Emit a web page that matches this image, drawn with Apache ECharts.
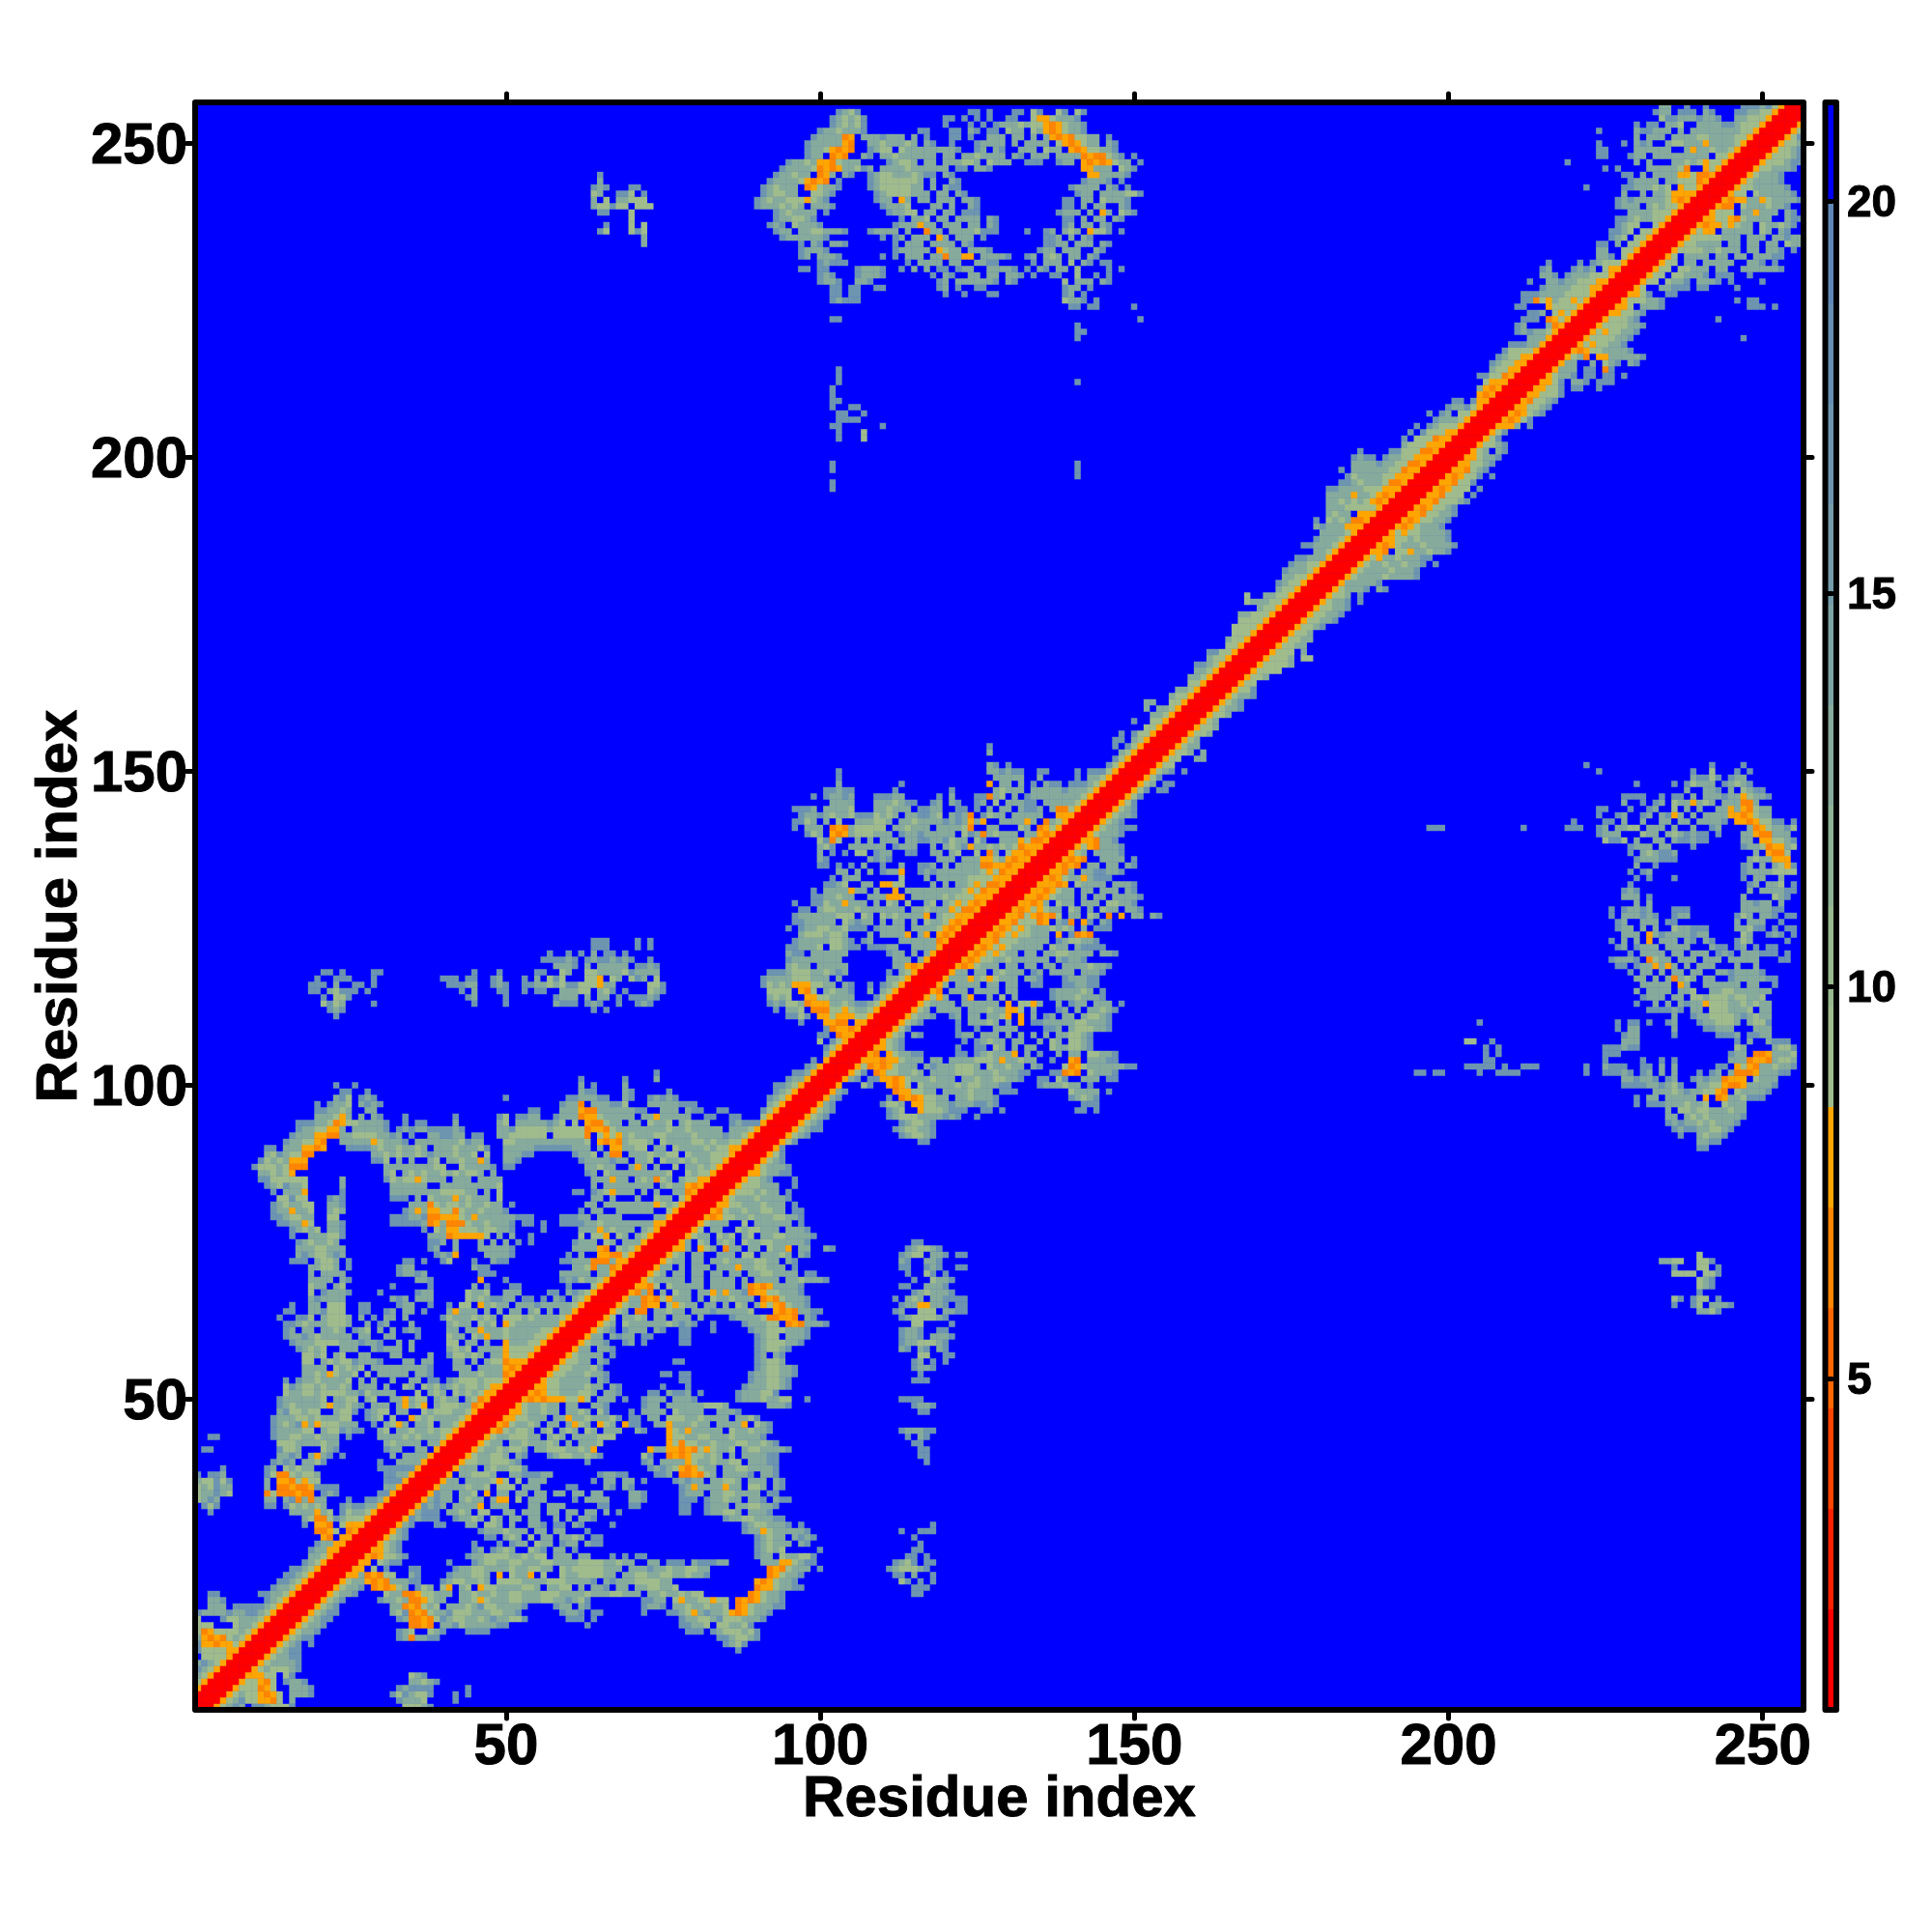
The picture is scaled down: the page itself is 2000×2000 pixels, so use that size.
<!DOCTYPE html>
<html><head><meta charset="utf-8">
<style>html,body{margin:0;padding:0;background:#fff}#c{width:2000px;height:2000px}</style>
<script src="https://cdn.jsdelivr.net/npm/echarts@6/dist/echarts.min.js"></script></head>
<body><div id="c"></div>
<script>
const residueCount = 256;
const xTicks = [50,100,150,200,250];
const yTicks = [50,100,150,200,250];
const barTicks = [5,10,15,20];
const bandEdges = [0.78,2.06,3.34,4.62,5.90,7.18,8.46,9.74,11.02,12.30,13.58,14.86,16.14,17.42,18.70,19.98,21.26];
const bandColors = ['#ff0000','#ff2200','#ff4400','#ff6600','#ff8500','#ffa500','#a0bc8c','#98b88f','#8fb295','#86ab9c','#7da3a3','#759caa','#6d95b0','#668eb4','#5f88b6','#0000ff'];
// distance value per letter used in the rows below
const letterValues = {'.':21,R:1.5,r:5.2,q:6.5,o:7.8,a:9.1,b:12.9,c:16.8};
// distance at |i-j| = 0..3 along the diagonal
const diagonalValues = [1.4,1.4,1.6,7.8];

// Each row: "y x:cells x:cells" (upper triangle x>y, mirrored on load)
const rowsBlockA = [
"1 5:abcb.ccbaaac 35:aabc","2 6:abcaaooqa.b 35:abc","3 7:abaaoqoa.bbbc 35:aac 44:c","4 8:aaaqoa..bbbc 33:cbbaac 44:c",
"5 9:aaoqa.cbbc 35:bbabc","6 10:ooaa.ac 35:abc","7 11:abaaabc","8 12:abbbbc","9 13:abbcc","10 14:abcc 87:c",
"11 15:abc.c 85:cbac","12 16:abcc 33:cbqbbcc 84:ccbaabc","13 17:abbc 33:cba..abc 44:ccc 47:c 79:ccc 83:cbaaabac",
"14 18:abbc 35:qqoq.bbcabbbbbcc 63:c 78:ccbba.aabbac","15 19:abcc 33:cbqqoqacbaabbabcbbaac 60:ccc 64:c 78:cbbaabcaaabbbc",
"16 20:abcc 32:bacqoqabbcaaabbbaabbc 59:cbbc 64:cc 72:c 76:ccbaobcbbao 87:qoabbc",
"17 21:abc 31:.bbqoqaba.bbbabcaabbbbc 58:cbb.bc 72:cbbc.bbabbabba 87:qoabbbcc",
"18 22:abc 30:cbbabqqoabb..bbaoabbbaabbbaabbcbac 72:ccbb.aobbaaoaa 87:qoqoabbc",
"19 23:abbc 31:abbqqoaabbb.bbabbabbaabbbaaabbbbabbbaabbb.bbabbabaa 89:qoabbc",
"20 24:abbc 29:qoqoabbcab.ao.ba.oaabbbbaab.bbaa.b.bbc.bb.bbaabba 90:qooabbcc",
"21 25:abbcc 28:oqoqbbbcc 40:cbaabbab 49:aaaabbbbaaabbbbc.bcbbbaaaabb 90:oqoabbc",
"22 26:ob 28:qoqaa..bc 41:cbbbaab.o.abbo.a..abbaaaabb.bbaabbaabbabbc 92:qoabbc",
"23 26:oo 29:a.c 35:cc 42:cbbaa 47:bbbbabbaabb 59:abaaaaabbb.bbbcbbabbaabb 92:qoqabbb.c",
"24 27:oo 30:abcc 41:c 45:cbaabbaabbbaabbbbaaaabbabb..bb.ccc.bcc 81:c 83:cbb.. 91:bbboo 96:abcc",
"25 29:qoaabc 44:cbbaaaabbabaa.bbb.bb...cc 67:c.c 71:cc 90:cbb.abbaac",
"26 30:oabc 45:cb.cbab..abc.bb.c 90:cbaba.. 100:c","27 31:abc 45:c 49:c.cbb.abb.cbb.bcc 90:cbabbb.bc",
"28 32:abc 47:cc.bab.a.bb.bbab.cc 90:cbabb.bcbc","29 33:bc 46:cbbbabbb.bb.bb...c 88:cbboabbbbbc",
"30 34:bc 39:cc 43:.bb.aab.b..bbc.cc.bc 67:c 88:cbaabbbc.c","31 33:cbcbc 38:cc 42:cbbab.ab.bb.bb..b.b.bbc 85:cbbaabbbcc",
"32 34:cbbcc 39:c.bbab.aa..bb.bbb.bb.bb.bb.b.c 78:cc 82:cbbaab.bbbc","33 36:bcb 39:cb.bbbbo.bbb...bb.bbb.. 65:cc 70:cc 78:cc 82:cbbb.bbaabbc",
"34 35:bcbbcbb.babb.boo.a.bbb....c.bbbb...bbc 78:ccc 82:cbbabb.bbc 92:.bcc","35 36:bbbcbb.bba.o.bb.bb.bb.bb.bb.bb....bbc 78:cbbb 83:bbaabbbb.cc",
"36 37:bb.bbbbabba.aaa.bbb....cc....bc.bc 78:cbobbbbobb.aab.bc","37 38:bbabb.bbbbaoa.a.bbb.......c.bb.bb.c 77:cbcbb.bbaab.bbb.bc",
"38 39:abb.bbaaab..bbcccbb.... 64:.cbbcc 74:ccb 78:qqoqab.bbbbc.bbc","39 40:qoabbb.babbaac 73:cbcbabb 78:oqoabb.bbaabbbbc",
"40 41:ooqaabbaaabc 63:c 72:cb.bbbbo 79:oabbabbaa.bbbcc","41 42:ooqabbaab.bc. 57:cbaabbabc 72:ac 76:qoqoaabab.b.bbbbcc",
"42 44:oqabbabaab.bbaaabbabo 73:obbooqoq 81:aoabba.baabbbbc","43 45:oqabb.bbabbbab.b.bbba 76:oaqaabbabbbaabbabc",
"44 46:oqabbaaabb.bab.bbbbaaa 76:oaabbaabbbabbbbc","45 48:oqabaab.ba.bab.ab.bbb..bc 76:oabobbbbb.abbabbc",
"46 49:oqabbab.bb.boab.oab.o 70:cc..bbobbbabb.bbbbo.abc","47 50:qoaabbb.bbobbabbbac 70:cc.bb 76:aaabbabbbb.bbac",
"48 51:qoabbabb.bbab.ac 70:c.bbbb.abbbb..bbbc","49 52:qabbabb.bb..bbc 72:cbb.bb 78:bbbbaaab 92:bbbc",
"50 54:qoqoooaaoa.bbb.c 72:cbbb.bbbc 87:cbbbabbaa 98:c","51 55:qoaabbbaab.bbc 73:cc.bc 78:cb.c 87:cbbbaac",
"52 56:oaabbbbabb.bc 75:c 78:.c 88:cbbbaabc","53 57:aabbbbb.bc 67:. 78:cc 89:cbbaabc","54 58:aabbbabbc 75:cc 78:cc 89:cbbaabbc",
"55 59:aabbbac 90:cbaabbc","56 60:aabb.bc 76:.cc 90:cbaab.","57 61:abbbb.c 90:cb.bc.","58 62:bb.bbc 69:. 90:cbaabc",
"59 63:abbc 69:cb.c 78:cc 90:cbaaabbc","60 64:bb.bc 68:cbb.cc 78:cc 83:. 90:cbaa.bbbc","61 65:ab 67:c 69:cbbb.bc 78:cc 83:c 89:cbbaaabbbc",
"62 66:ab.abbbbbbabc 78:cbc 83:c 88:cbbbaa 95:qoqbbbc","63 67:a.b 70:bab.bb.bbb.b.c 83:. 86:cbbbbaqqooq.bc",
"64 68:ab.qq.bbabb.bbb.c 83:cbbbbba 93:oqoqbbcc","65 69:abbqoo.aoabb.bb.b.ab.bbbb.c 91:oaoqabbc",
"66 70:bbqoqaobbb.b.abbabbb.ab.bc 91:qoqabbbc","67 71:qbq.b.abb.bb.bb.c 83:obobbc 89:qooaabbbc",
"68 72:oqa.abbbbb.bbbb.bc 89:qoqobbbbc","69 73:abbbbb.bb.bbbb.b.bbbb.bbabbbc","70 74:ab.bb.bb.bb.bb.bbaabbbb.cc",
"71 75:bb.b.bbb.bbbobbaabbb.c","72 76:abb.bb.bbabbbbaabb.bc","73 77:ab.bb..bbb.aa.bbbab.bc","74 78:ob.oab.qbb.bb.abbo.bb..bc",
"75 79:b.ab.bab.abbaabbbbbc","76 80:abb 84:aba.ba.bbaabbbbc","77 81:a.bb..abaabbb.bbbc","78 82:abbb..a.bbbbbb.c",
"79 83:qoaabbabbbaabbc","80 84:qabbabbaabb.cc","81 85:oaabbbabbb.c","82 86:abbbabbbbc","83 87:aaababb.c","84 88:aaabbb..c",
"85 89:aabc 96:c","86 90:oabbc 95:c","87 91:abbbc","88 92:abc","89 93:ac","90 94:c","91 95:ac 116:cc","92 96:abc 113:cbaabc","93 97:abcc 112:cbaabbc",
"94 98:abc. 113:cbaabc","95 99:abc 111:cbaaabbbbcbc 125:c"
];
const rowsBlockB = [
"96 100:abc 111:cba 116:oaaabc 122:cc 126:cc 129:c 141:cc 144:c","97 101:bc 110:caab 115:ooaabbcbbbccbc 142:ccc",
"98 102:bc 110:.c 113:qoqoaabb.bbabbbc 136:.. 140:cbabc","99 103:bc 112:qooaabb 120:bbbbabbb.ccc 140:abbbb.c",
"100 104:. 107:ac 111:oqoa.abbbbbabaabbbcc 135:cbbbabb.c","101 105:bc 108:cc 110:ooqoabbbabbb.bbabbaabbc 135:cc 138:ac..bbb.bc 146:c",
"102 106:ac 109:qoaabbab.bbbbaaabbbabbbcc 136:.cc 139:qoq.abbbc","103 107:ac 108:qoqoabbb.bcbbbaaab.abbabb.bc 139:aqoabbbbbbcc",
"104 108:ooqooabbb.bb.bbbbaaabobbabb.c 136:.c..oq.bbbcc","105 109:q.oabbcc 122:cc 125:cbabbbo.b.c 135:c..b.bb.aabbc",
"106 110:oabc 122:c 125:cc 128:ab.b.bb..abbaabc","107 111:abc 123:c 125:cbabb.bb..b.ab.aabc","108 112:ab.bc 122:cbb.bbb.b.b.b.b.bbaabc",
"109 113:ac 122:c 125:c..bbbb....c 137:cb.baaabbc","110 114:abc 122:c.bbbab.b.o.c 135:cbbbbbaabbbc","111 115:abbc 118:c 121:cb.bb.bbao.o.b.c 136:cb.bb.baabc",
"112 116:ab.bbbb.bbbabbooa.b.. 136:..cb.b.bbabc","113 117:abbbb.bbbbbb.o.aaob..bbbc 139:.cbb.bbb.c","114 118:aob..bo..b.a.bbbc 132:.... 137:cbbbabbbc",
"115 119:q.bbb.bbbb.bbbc 132:.. 137:cbbbbab.c","116 120:b.bbbb.bb.bb.. 134:cc 139:ccbbcc","117 121:bbbobaoabbb.bbc 139:cbbbcc",
"118 122:bb.bb.babbbc 133:.cb.bbbb.bbbc","119 123:qoabbb.bb.bb.bb.bbbbabbc","120 124:qoaabbabbbbbb.bbc 139:cbbc","121 125:qoaoabb.bb.bbaabbbb.bbc",
"122 126:qoaoabbbbb.abb.bc 143:ccc","123 127:oqaaabbbbb.bc 137:.cbaabbc.","124 128:qoaoaabbb.abc 138:o.cqoq.",
"125 129:qoaoabbbabab.b.bc 144:ccc","126 130:oqaaaqo.bc.. 139:cq.oc.bc","127 131:oqaoqoqa.bb.ab.q.o.bb.bc","128 132:qoaoabb.ab.b.abb.bbc",
"129 133:oqob.abb.bbb.aabbc","130 134:oqoabbb.b.bb.bbbbc","131 135:oqoabb.bb.bbb.bc.","132 136:ooqo 141:abbbb.bbbc","133 137:qoabbobc 144:ccc.",
"134 138:oqb.bb.bbbc 144:cc","135 139:qoq.bb.bb.bc","136 140:qoq..bbbb.c","137 141:ab.bbbbc","138 142:aoqbbbc","139 143:oqbbc","140 144:abbbc",
"141 145:abbccc","142 146:abc","143 147:abbc","144 148:abc","145 149:ac","146 150:ac.","147 151:ac.cc","148 152:abc 154:.cc"
];
const rowsUpperDiagonal = [
"149 153:ac.","150 154:abc 158:c","151 155:aa","152 156:aa 160:bb","153 157:aab.b 161:b","154 158:abb","155 159:ab","156 160:aab","157 161:aab","158 162:ab",
"159 163:aab","160 164:abbc","161 165:abc","162 166:abbc","163 167:aac","164 168:aa","165 169:aa 171:b","166 170:aaaa","167 171:aaaab","168 172:aaab.aa","169 173:aaa.b",
"170 174:aabb","171 175:aabb","172 176:aab.","173 177:aabc","174 178:aabbc","175 179:aabbc","176 180:aabbc.","177 181:abbc.c","178 182:aab.c","179 183:abbbc.bc",
"180 184:bbbbbc","181 185:abbbbabbbbc","182 186:abbbbabbbc","183 187:abbabbabbc 198:c","184 188:aobbabbbcc","185 189:oq.aaobbabbc","186 190:qoabbbabbbbc",
"187 191:oaababbbbc","188 192:aoaabbbbc","189 193:qoabbbc","190 194:qoaabbc","191 195:oqaabbc","192 196:qoaabc","193 197:oqaaabc","194 198:oqaaa.c","195 199:qoaaa.c",
"196 200:oqaac","197 201:qoaac.c","198 202:oqabc","199 203:oaabc","200 204:oabbc","201 205:ab.bc","202 206:aabc","203 207:ac.","204 208:ac","205 209:oob.c","206 210:qoac",
"207 211:qoabc","208 212:oaabc","209 213:qaabc","210 214:oaaac.","211 215:oaac.cc 224:c","212 216:oac.bbc.ccc","213 217:abbc.cc.cc.c","214 218:bbb.cc 225:qc","215 219:bb..b.abc.bc.",
"216 220:abq.oobbbbbc","217 221:qoaabbbbc.","218 222:aoaabbc","219 223:aaaabbc","220 224:aoaabbc.","221 225:aaaabbc","222 226:aaabc..","223 227:oaabc.","224 228:oa.bbbc",
"225 229:aaabbc..","226 230:oac..cc","227 231:a..bbccc","228 232:aa.abbc.bbbc","229 233:aa.aabbbc.bcc","230 234:aa.aabbb.bb..bbbbbbc","231 235:aa.bb.bbbbb..bbc 252:c","232 236:a.bbbb.bb.bb.bbbbc",
"233 237:aaaabbabbb.bb.bbc.c","234 238:aabbbb.bb.bb.bb.abbc","235 239:aaaaabbb.bbb.bbcbbc","236 240:aoo.bbbbb.ab.bc.","237 241:qooaoabb.abbabc","238 242:oaaoqabbbb..bcc","239 243:aaa.bbobbb.bc",
"240 244:qq.abbbabbc","241 245:qoobboabbbbc","242 246:aa.abbbbbc","243 247:aabbbbbc","244 248:abbbbc.","245 249:abbbc","246 250:aabbbc","247 251:aaabcc","248 252:aaabc","249 253:aabc","250 254:aabc",
"251 255:acc","252 256:ac","232 252:c","228 245:c 250:c","229 243:cc 248:c","227 240:cc 246:c","225 246:c.cc","224 248:ccc 252:c","222 243:c","219 247:c"
];
const rowsFarBlock = [
"255 103:cbac 124:cc 127:c 131:cc 134:ac 137:.ac.ac","254 102:cbabac 120:cc 123:c 125:c 127:c 130:cc 134:aoo 137:abbbc",
"253 102:cbabac 120:c 123:.c.cc 127:.cbbbabaaoqoabbc","252 100:cbbabbbc 116:cc 120:.cc.bc 127:cc.abb.aboqoabbc",
"251 99:cbbbbb 104:qo 107:bbb 110:cbbb.b.c 120:.cc.c 127:bbb.bb.b.boqoqaabb.c","250 98:cbbbbb 104:oq 107:.bbabbbab.bc..c 125:cbbbb.b.bbbb.aoqoabb.bc",
"249 98:cbb 101:aq 102:oqoq 107:.cbaa.abbbbbbbbc 125:cb.bc..bbb.abb.oqoaabbc","248 98:cbb.a 102:qoq 106:.bc.bbabbbbbb.bb.bbabbbb.b.bb 132:c.bbb.bbbb 142:qoqqabc.c",
"247 95:cbbabq 100:ooq 103:abbb 111:cbaab.bb.bbbaab.abbb 133:ccc 138:cbb.oqoqoabb.c","246 94:cbbbba 100:qoqo 104:bba 107:cb.bbbbabbbbbb.cc.bbc 142:oobbb.abc",
"245 93:cbbabb 100:qo 102:b.bc 108:cbaabbbabcc.bc 143:oobbbbc","244 92:cbbbba 98:oqoq 102:.c 108:cbaaaaaab.b..bc 142:cbbbc.c","243 91:cbabbb. 98:qo 100:a 101:bbc 108:cbaaaaabb.b.bcc 140:cbbbb.bc.c",
"242 91:cbaabb..aabc 109:cbaaaabbb.bb.bc 141:cbb.bbbbaac","241 90:cbabbaaaoabc 109:cbb.ob.bb.bbb.bbc 139:cc.bb.abbbc","240 90:cbbbabab.bbbc 110:cbbba...bb.b..bc 139:cc.b.bb..bc",
"239 93:cbabbbb.c 111:cbbaa.bb.bb.ccc 138:cbbb.b.ob.abc","238 93:cbbaabc. 113:c.bba.bb.bbbb.bc 139:cc.b.bb.bc","237 92:cbc.abbbc 112:cbbbobb.bbb.bb.bc 139:cb.bb.bc",
"236 93:cbb.bbaabbbc 108:cbbbb.b..qbb.bbbbaccc 133:c 136:cb.bab.oaac.c","235 94:cbbbbbbc 110:c 112:cb.bbb.ob.bbb.c 136:ccb.b.bc","234 97:c.bc.bbc 112:c.bbb.bbbb.bc 136:ccbb.bbb.bc",
"233 97:cbbbc 112:cbbbbb.oabb.bbbc 135:cbb.bbb..bc","232 97:cb.bbbc 110:c 112:c.bbb.bbqbboo.bbbbc 133:cb.bab.bb.bc.","231 100:cbccc 113:.c.bbbb.bb..bbcc 134:c.bbb.a.bc.cc",
"230 97:cc.cc.. 106:cbbbc. 113:c.b.b.cc.cbb..bbbbc.c.bc.bb.a 146:c.c","229 100:cbc 106:cbbbc.. 118:c.bc..bb.bb.bbc.c 136:.cc..a..... 144:c.c","228 100:cbbc 106:bbc.. 119:cb.bbbbbbc.bc 138:.a.bbb.bc.",
"227 102:cc 105:c 106:c..cc 119:cb.c..cc 139:cbb.c.","226 102:cc 105:cc 120:c 123:c 127:cc 139:cb.c.","225 102:cbc 105:cc 139:abbc.c","224 140:cc.c 144:c","222 102:cc",
"221 141:c","220 141:cc","219 141:c","214 103:c","213 103:c","212 103:c 141:c","211 102:c","210 102:c","209 103:c","208 105:cc","207 103:c 107:c","206 103:c 105:cc","205 103:c","204 103:c","203 103:c","199 141:c","198 141:c","197 141:c",
"196 102:c","195 102:c","110 205:c","107 203:aa","104 206:cc","102 196:c 198:cc 205:c 208:cc",
"151 222:c","150 224:c"
];
const rowsStripAndPatches = [
"73 240:a","72 234:bbaa 240:aac","71 236:c 240:aa 243:c","70 236:aaaa 241:aac","69 240:abc","68 240:abc","67 240:c","66 236:ac 239:caa 243:c","65 236:c 239:ca.bbbc","64 240:bbac",
"75 115:cc","74 114:cbaabc","73 113:cbaa.bbc 122:cc","72 113:bc.. 117:bbc","71 113:cc 115:..c 118:bc 122:cc","70 114:c. 116:.ac.c","69 115:c..abbc","68 113:cc..bbbc","67 114:.cbabbbc",
"66 112:c.bab.bbcc 122:cc","65 113:cbboobbc 122:cc","64 112:cb..aaa.bbc 122:cc","63 113:cbaaaabc","62 113:..aa....c","61 113:cbbc..cc","60 113:cbbc.bbbc","59 113:cbbaaabc","58 113:bc.bc.bc",
"57 114:..aa..cc","56 115:cb.c.c","55 115:cbbc","54 116:c","53 115:ccc","50 113:ccc 116:c","49 115:cbbc","48 116:cc","45 113:cbbbc 118:c","44 114:c.bc","43 115:cc","42 116:cc","41 116:cc","40 117:c",
"30 118:c","29 113:c 116:ccc","28 115:c","27 116:c","26 115:cc","25 114:cc.c","24 112:cbac 116:.cc","23 111:cbaaabc","22 112:cc.b..c","21 113:ac.c.c","20 115:ccc","19 115:cc",
"150 100:.","35 1:abbc 20:.","36 1:abac","37 2:aac","38 3:c","33 2:ca","32 3:c","34 1:abc","40 1:.","42 2:cc"
];

const values = new Map();
function setCell(x, y, v) {
  if (x < 1 || y < 1 || x > residueCount || y > residueCount) return;
  values.set(x + ',' + y, v); values.set(y + ',' + x, v);
}
[rowsBlockA, rowsBlockB, rowsUpperDiagonal, rowsFarBlock, rowsStripAndPatches].forEach(list => list.forEach(row => {
  const parts = row.split(' ');
  const y = +parts[0];
  parts.slice(1).forEach(part => {
    const [x0, cells] = part.split(':');
    [...cells].forEach((ch, k) => setCell(+x0 + k, y, letterValues[ch]));
  });
}));
const categories = [];
for (let i = 1; i <= residueCount; i++) categories.push(String(i));
const data = [];
for (let x = 1; x <= residueCount; x++) for (let y = 1; y <= residueCount; y++) {
  const d = Math.abs(x - y);
  let v = d < diagonalValues.length ? diagonalValues[d] : values.get(x + ',' + y);
  if (v === undefined) v = letterValues['.'];
  data.push([x - 1, y - 1, v]);
}
const pieces = bandColors.map((color, i) => ({ gte: bandEdges[i], lt: bandEdges[i + 1], color }));
const bands = bandColors.map((color, i) => ({ value: [bandEdges[i], bandEdges[i + 1]], itemStyle: { color } }));

const FONT = '"Liberation Sans"';
const L = 202, R = 1867, T = 106, B = 1770;
const isTick = ticks => (i, v) => ticks.includes(+v);
const tickLine = { lineStyle: { color: '#000', width: 5, cap: 'round' } };
function catAxis(extra) {
  return Object.assign({
    type: 'category', data: categories, gridIndex: 0, boundaryGap: true,
    axisLine: { show: false }, splitLine: { show: false }, z: 20
  }, extra);
}
const labelStyle = { color: '#000', fontFamily: FONT, fontWeight: 'bold', fontSize: 60, textBorderColor: '#000', textBorderWidth: 1 };
const chart = echarts.init(document.getElementById('c'), null, { renderer: 'canvas', width: 2000, height: 2000 });
chart.setOption({
  animation: false,
  backgroundColor: '#fff',
  grid: [
    { left: L, top: T, width: R - L, height: B - T, show: true, backgroundColor: '#0000ff', borderWidth: 0 },
    { left: 1889.5, top: T, width: 11.5, height: B - T, show: false }
  ],
  xAxis: [
    catAxis({ position: 'bottom', name: 'Residue index', nameLocation: 'middle', nameGap: 63, nameMoveOverlap: false,
      nameTextStyle: Object.assign({}, labelStyle),
      axisTick: Object.assign({ show: true, alignWithLabel: true, length: 9, interval: isTick(xTicks) }, tickLine),
      axisLabel: Object.assign({ show: true, interval: isTick(xTicks), margin: 9 }, labelStyle) }),
    catAxis({ position: 'top',
      axisTick: Object.assign({ show: true, alignWithLabel: true, length: 9, interval: isTick(xTicks) }, tickLine),
      axisLabel: { show: false } }),
    { type: 'value', gridIndex: 1, min: 0, max: 1, show: false }
  ],
  yAxis: [
    catAxis({ position: 'left', name: 'Residue index', nameLocation: 'middle', nameGap: 110, nameRotate: 90, nameMoveOverlap: false,
      nameTextStyle: Object.assign({}, labelStyle),
      axisTick: Object.assign({ show: true, alignWithLabel: true, length: 9, interval: isTick(yTicks) }, tickLine),
      axisLabel: Object.assign({ show: true, interval: isTick(yTicks), margin: 8, verticalAlign: 'top', lineHeight: 8 }, labelStyle) }),
    catAxis({ position: 'right',
      axisTick: Object.assign({ show: true, alignWithLabel: true, length: 9, interval: isTick(yTicks) }, tickLine),
      axisLabel: { show: false } }),
    { type: 'value', gridIndex: 1, position: 'right', min: bandEdges[0], max: bandEdges[bandEdges.length - 1],
      splitLine: { show: false }, axisLine: { show: false }, z: 20,
      axisTick: Object.assign({ show: true, length: 7, customValues: barTicks }, tickLine),
      axisLabel: { show: true, customValues: barTicks, margin: 11, verticalAlign: 'top', lineHeight: 6, color: '#000', fontFamily: FONT, fontWeight: 'bold', fontSize: 46, textBorderColor: '#000', textBorderWidth: 1 } }
  ],
  visualMap: { show: false, type: 'piecewise', seriesIndex: 0, pieces, dimension: 2 },
  series: [
    { type: 'heatmap', xAxisIndex: 0, yAxisIndex: 0, data, progressive: 0, itemStyle: { borderWidth: 0 }, emphasis: { disabled: true } },
    { type: 'custom', xAxisIndex: 2, yAxisIndex: 2, data: bands, silent: true,
      encode: { y: [0, 1] },
      renderItem(params, api) {
        const a = api.coord([0, api.value(0)]);
        const b = api.coord([1, api.value(1)]);
        return { type: 'rect', shape: { x: a[0], y: b[1], width: b[0] - a[0], height: a[1] - b[1] }, style: { fill: api.visual('color') } };
      } }
  ],
  graphic: [
    { type: 'rect', z: 100, silent: true, shape: { x: L, y: T, width: R - L, height: B - T }, style: { fill: null, stroke: '#000', lineWidth: 6, lineJoin: 'round' } },
    { type: 'rect', z: 100, silent: true, shape: { x: 1889.5, y: T, width: 11.5, height: B - T }, style: { fill: null, stroke: '#000', lineWidth: 6, lineJoin: 'round' } }
  ]
});
</script></body></html>
